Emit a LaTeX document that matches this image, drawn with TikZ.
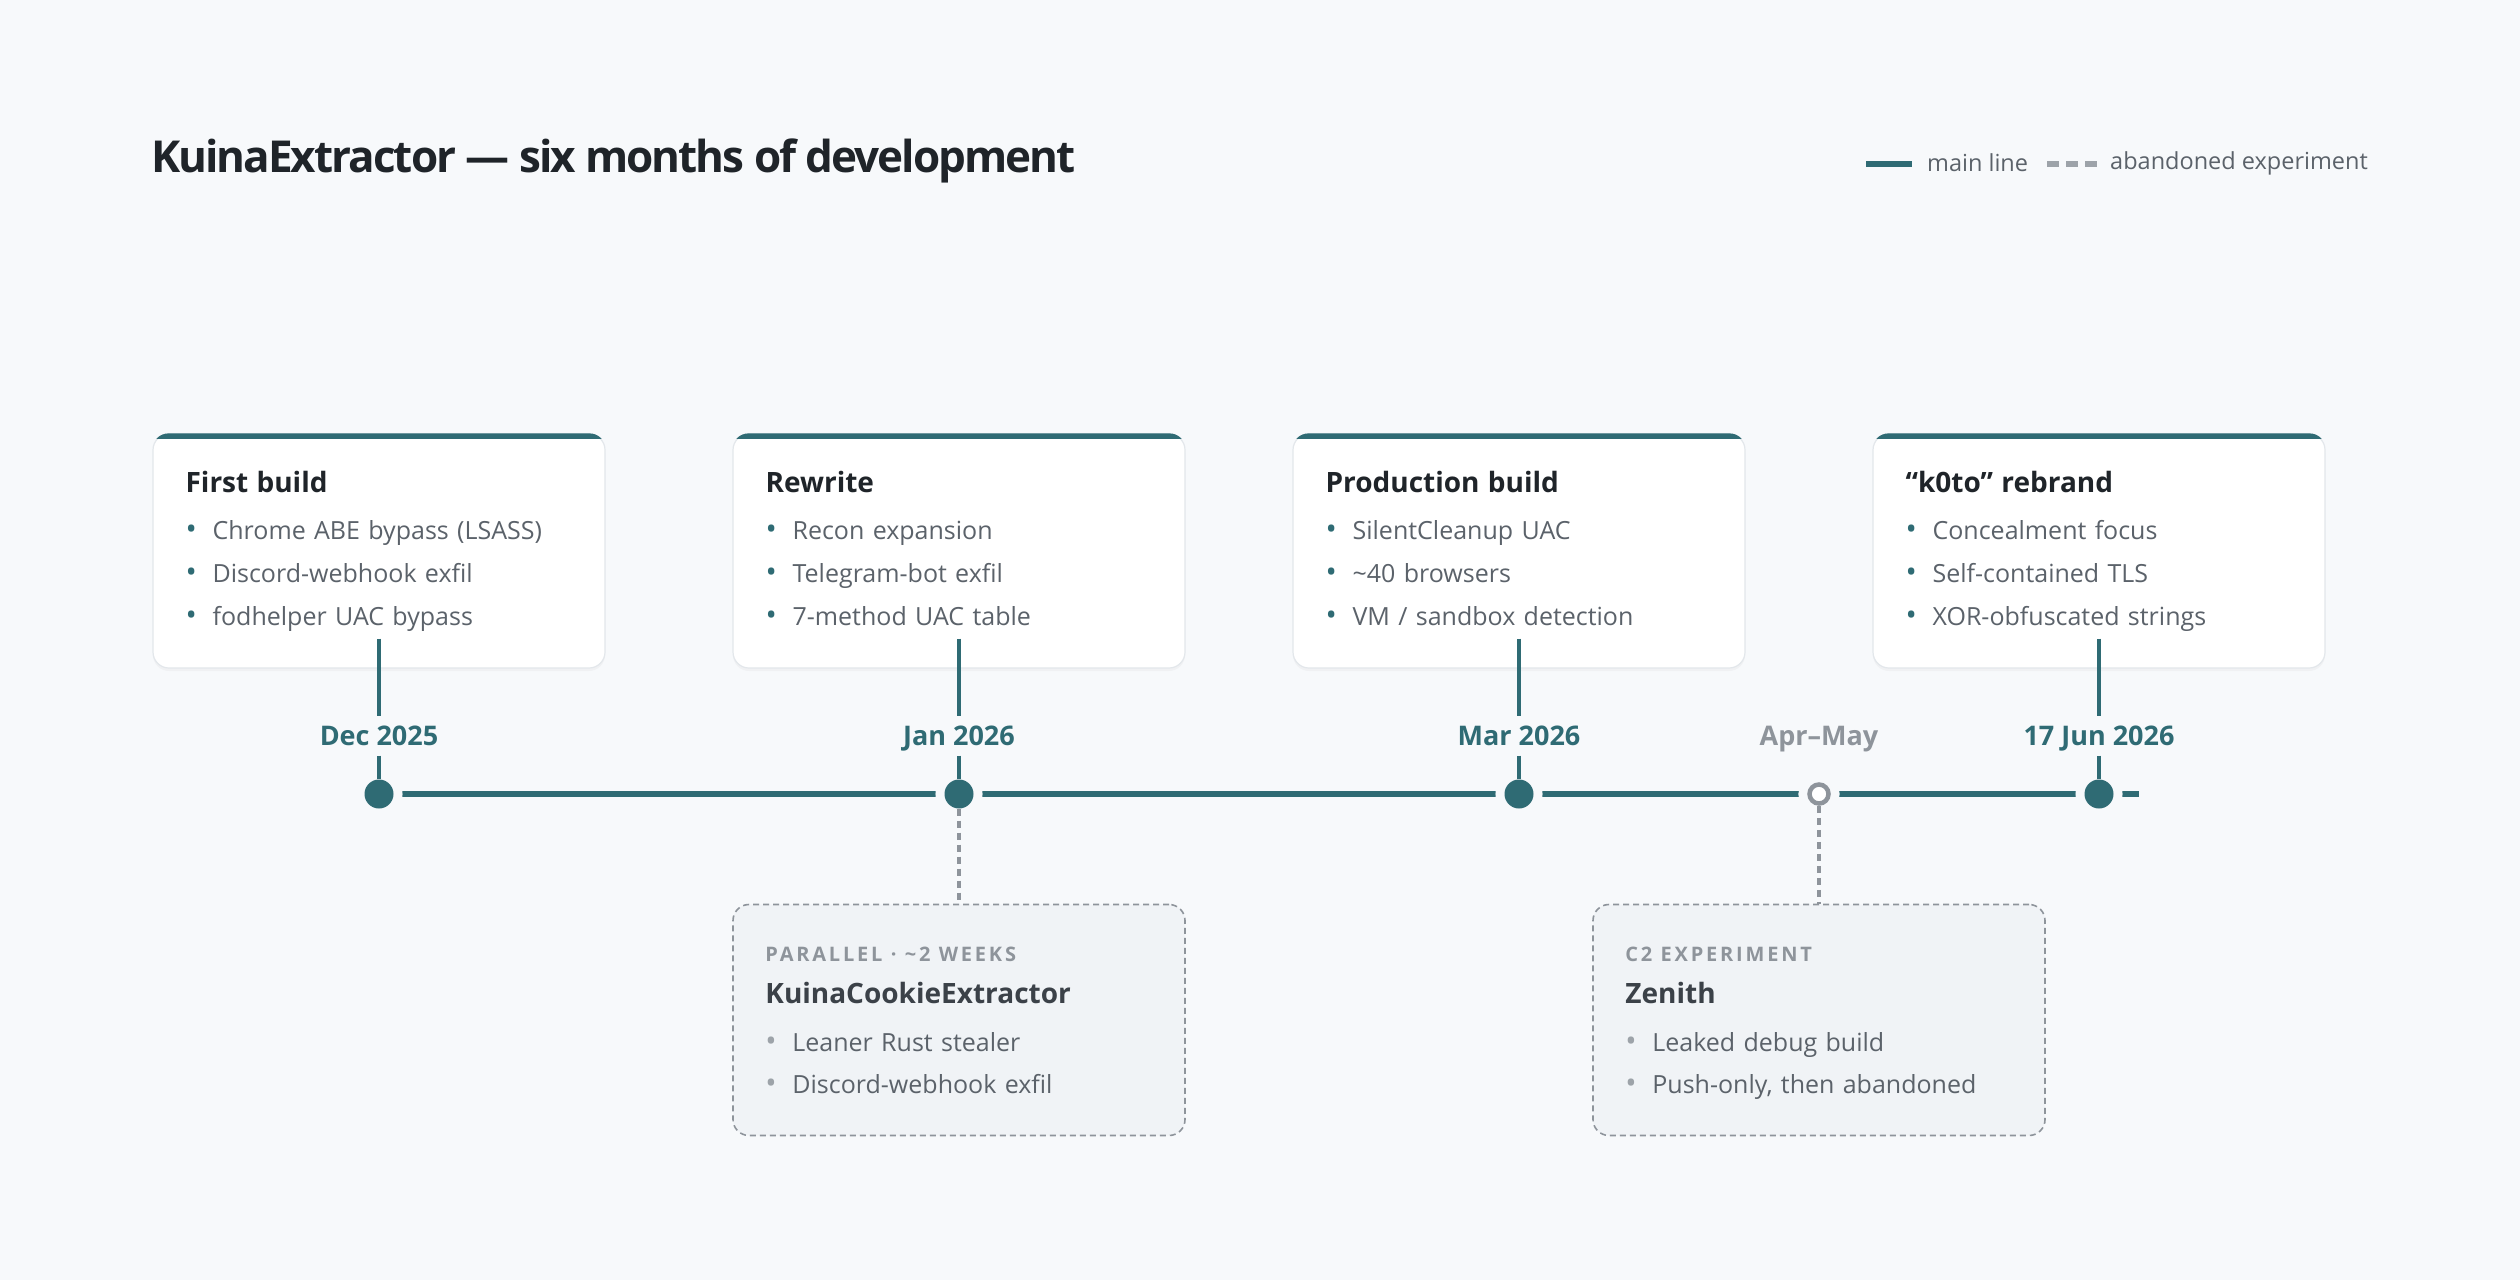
\documentclass[tikz,border=0pt]{standalone}
\usepackage{fontspec}
\setmainfont{Open Sans}
\usetikzlibrary{positioning, calc, shadows}

\definecolor{pagebg}{HTML}{F7F9FB}
\definecolor{tealmain}{HTML}{2F6B74}
\definecolor{inkdark}{HTML}{1F2429}
\definecolor{slate}{HTML}{5B626A}
\definecolor{fadegrey}{HTML}{8E949B}
\definecolor{dotgrey}{HTML}{9DA3A9}
\definecolor{boxfill}{HTML}{F0F3F6}
\definecolor{cardline}{HTML}{E3E7EB}
\definecolor{exptitle}{HTML}{3B4148}

\newcommand{\bul}[1]{\makebox[27pt][l]{\textcolor{#1}{\fontsize{30pt}{0pt}\selectfont\textbullet}}}
\newcommand{\cardhead}[1]{{\fontsize{28pt}{34pt}\selectfont\bfseries\color{inkdark}#1}}
\newcommand{\exphead}[1]{{\fontsize{28pt}{34pt}\selectfont\bfseries\color{exptitle}#1}}
\newcommand{\expkind}[1]{{\fontsize{20pt}{22pt}\selectfont\bfseries\addfontfeature{LetterSpace=14}\color{fadegrey}#1}}

\tikzset{
  card/.style={draw=cardline, line width=1.2pt, fill=white, rounded corners=16pt,
    minimum width=452pt, minimum height=234pt, inner sep=0pt,
    drop shadow={opacity=0.06, shadow xshift=0pt, shadow yshift=-3pt}},
  expbox/.style={draw=fadegrey, dash pattern=on 6pt off 4pt, line width=1.6pt, fill=boxfill,
    rounded corners=16pt, minimum width=452pt, minimum height=231pt, inner sep=0pt},
  cardtext/.style={anchor=north west, inner sep=0pt, text width=410pt, align=left,
    text=slate, font=\fontsize{25pt}{43pt}\selectfont},
  exptext/.style={cardtext, font=\fontsize{25pt}{42pt}\selectfont},
  datelbl/.style={font=\fontsize{27pt}{30pt}\selectfont\bfseries, text=tealmain,
    text height=19pt, text depth=0pt, inner xsep=3pt, inner ysep=10pt},
  milestone/.style={circle, fill=tealmain, minimum size=29pt, inner sep=0pt,
    preaction={draw=pagebg, line width=18pt}},
  sidestone/.style={circle, draw=fadegrey, line width=4.5pt, fill=white, minimum size=19pt,
    inner sep=0pt, preaction={draw=pagebg, line width=22pt}},
  mainline/.style={draw=tealmain, line width=6pt},
  stem/.style={draw=tealmain, line width=4pt},
  branch/.style={draw=fadegrey, line width=3.5pt, dash pattern=on 7pt off 5pt},
  legendtext/.style={anchor=west, inner sep=0pt, text=slate, font=\fontsize{23.5pt}{26pt}\selectfont},
}

\begin{document}
\begin{tikzpicture}[x=1pt, y=-1pt]
  \useasboundingbox[fill=pagebg] (0,0) rectangle (2520,1280);

  % heading and legend
  \node[anchor=base west, inner sep=0pt, text=inkdark,
        font=\fontsize{44pt}{54pt}\selectfont\bfseries\addfontfeature{LetterSpace=-4.5}] (title)
        at (151,172) {KuinaExtractor --- six months of development};
  \draw[mainline] (1866,164) -- (1912,164);
  \node[legendtext] (lgmain) at (1927,163) {main line};
  \draw[mainline, draw=dotgrey, dash pattern=on 12pt off 7pt] (2047,164) -- (2097,164);
  \node[legendtext] (lgexp) at (2110,163) {abandoned experiment};

  % the time line
  \coordinate (tlstart) at (379,794);
  \coordinate (tlend) at (2139,794);
  \draw[mainline] (tlstart) -- (tlend);

  \node[milestone] (m1) at (tlstart) {};
  \node[milestone] (m2) at (959,794) {};
  \node[milestone] (m3) at (1519,794) {};
  \node[sidestone] (m4) at (1819,794) {};
  \node[milestone] (m5) at (2099,794) {};

  % milestone cards
  \node[card] (c1) at (379,551) {};
  \node[card] (c2) at (959,551) {};
  \node[card] (c3) at (1519,551) {};
  \node[card] (c4) at (2099,551) {};
  \foreach \c in {c1,c2,c3,c4}{
    \begin{scope}
      \clip[rounded corners=16pt] (\c.south west) rectangle (\c.north east);
      \fill[tealmain] (\c.north west) rectangle ([yshift=-6pt]\c.north east);
    \end{scope}
  }

  \node[cardtext] (t1) at ([xshift=33pt, yshift=-38pt]c1.north west) {
    \cardhead{First build}\\[4pt]
    \bul{tealmain}Chrome ABE bypass (LSASS)\\
    \bul{tealmain}Discord-webhook exfil\\
    \bul{tealmain}fodhelper UAC bypass};
  \node[cardtext] (t2) at ([xshift=33pt, yshift=-38pt]c2.north west) {
    \cardhead{Rewrite}\\[4pt]
    \bul{tealmain}Recon expansion\\
    \bul{tealmain}Telegram-bot exfil\\
    \bul{tealmain}7-method UAC table};
  \node[cardtext] (t3) at ([xshift=33pt, yshift=-38pt]c3.north west) {
    \cardhead{Production build}\\[4pt]
    \bul{tealmain}SilentCleanup UAC\\
    \bul{tealmain}\textasciitilde 40 browsers\\
    \bul{tealmain}VM / sandbox detection};
  \node[cardtext] (t4) at ([xshift=33pt, yshift=-38pt]c4.north west) {
    \cardhead{``k0to'' rebrand}\\[4pt]
    \bul{tealmain}Concealment focus\\
    \bul{tealmain}Self-contained TLS\\
    \bul{tealmain}XOR-obfuscated strings};

  % dates
  \node[datelbl] (d1) at (379,736) {Dec 2025};
  \node[datelbl] (d2) at (959,736) {Jan 2026};
  \node[datelbl] (d3) at (1519,736) {Mar 2026};
  \node[datelbl, text=fadegrey] (d4) at (1819,736) {Apr--May};
  \node[datelbl] (d5) at (2099,736) {17 Jun 2026};

  \draw[stem] ([yshift=30pt]c1.south) -- (d1.north);
  \draw[stem] ([yshift=30pt]c2.south) -- (d2.north);
  \draw[stem] ([yshift=30pt]c3.south) -- (d3.north);
  \draw[stem] ([yshift=30pt]c4.south) -- (d5.north);
  \draw[stem] (d1.south) -- (m1.north);
  \draw[stem] (d2.south) -- (m2.north);
  \draw[stem] (d3.south) -- (m3.north);
  \draw[stem] (d5.south) -- (m5.north);

  % side branches
  \node[expbox] (x1) at (959,1020) {};
  \node[expbox] (x2) at (1819,1020) {};
  \draw[branch] (m2.south) -- (x1.north);
  \draw[branch] (m4.south) -- (x2.north);

  \node[exptext] (e1) at ([xshift=33pt, yshift=-43pt]x1.north west) {
    \expkind{PARALLEL\ ·\ \textasciitilde 2\ WEEKS}\\
    \exphead{KuinaCookieExtractor}\\[6pt]
    \bul{dotgrey}Leaner Rust stealer\\
    \bul{dotgrey}Discord-webhook exfil};
  \node[exptext] (e2) at ([xshift=33pt, yshift=-43pt]x2.north west) {
    \expkind{C2\ EXPERIMENT}\\
    \exphead{Zenith}\\[6pt]
    \bul{dotgrey}Leaked debug build\\
    \bul{dotgrey}Push-only, then abandoned};
\end{tikzpicture}
\end{document}
